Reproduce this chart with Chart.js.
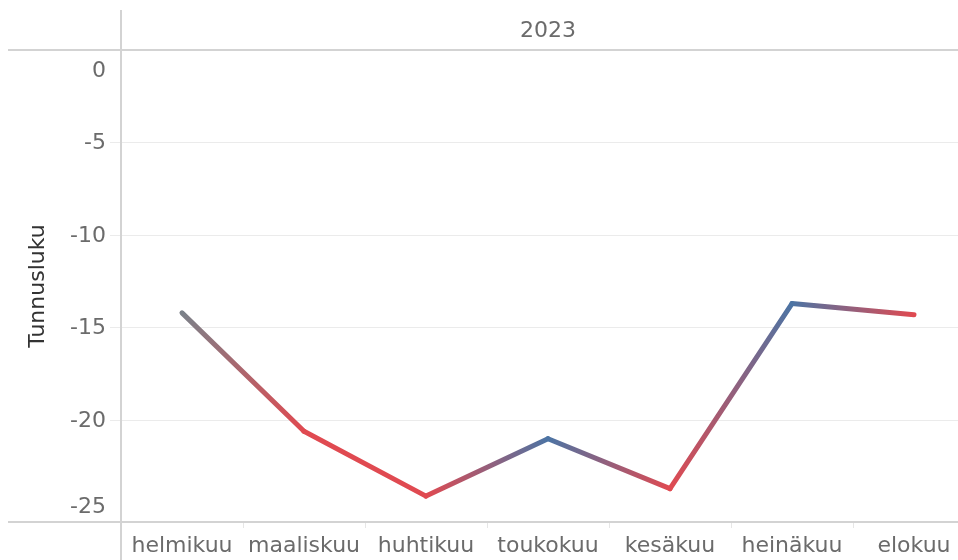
<!DOCTYPE html>
<html>
<head>
<meta charset="utf-8">
<script src="https://cdn.jsdelivr.net/npm/chart.js@4.4.0/dist/chart.umd.min.js"></script>
<style>
html,body{margin:0;padding:0;background:#fff;overflow:hidden;width:958px;height:560px;}
#wrap{width:976px;height:560px;}
</style>
</head>
<body>
<div id="wrap"><canvas id="c" width="976" height="560"></canvas></div>
<script>
const categories = ['helmikuu','maaliskuu','huhtikuu','toukokuu','kesäkuu','heinäkuu','elokuu'];
const values = [-14.2, -20.6, -24.1, -21.0, -23.7, -13.7, -14.3];
const yTicks = [0, -5, -10, -15, -20, -25];
const headerLabel = '2023';
const yTitle = 'Tunnusluku';

const RED = '#e04a51', BLUE = '#4c74a4', GRAY = '#7b8189';
const pointColors = values.map((v, i) => i === 0 ? GRAY : (v < values[i - 1] ? RED : BLUE));
const FONT = 'DejaVu Sans';
const TXT = '#6b6b6b';

const chromePlugin = {
  id: 'chrome',
  afterDraw(chart) {
    const ctx = chart.ctx, a = chart.chartArea, y = chart.scales.y;
    ctx.save();
    ctx.font = '22px "' + FONT + '"';
    ctx.fillStyle = TXT;
    ctx.textAlign = 'right';
    ctx.textBaseline = 'middle';
    yTicks.forEach(t => {
      let py = y.getPixelForValue(t);
      py = Math.max(a.top + 20, Math.min(a.bottom - 16, py));
      ctx.fillText(String(t), 106, py + 1);
    });
    ctx.textAlign = 'center';
    ctx.fillText(headerLabel, (a.left + a.right) / 2, 31);
    ctx.strokeStyle = '#d3d3d3';
    ctx.lineWidth = 2;
    ctx.beginPath();
    ctx.moveTo(8, a.top); ctx.lineTo(chart.width, a.top);
    ctx.moveTo(8, a.bottom); ctx.lineTo(chart.width, a.bottom);
    ctx.moveTo(a.left, 10); ctx.lineTo(a.left, chart.height);
    ctx.stroke();
    ctx.restore();
  }
};

new Chart(document.getElementById('c'), {
  type: 'line',
  data: {
    labels: categories,
    datasets: [{
      data: values,
      borderWidth: 5,
      borderCapStyle: 'round',
      borderJoinStyle: 'round',
      pointRadius: 0,
      tension: 0,
      borderColor: RED,
      segment: {
        borderColor: c => {
          const g = c.chart.ctx.createLinearGradient(c.p0.x, c.p0.y, c.p1.x, c.p1.y);
          g.addColorStop(0, pointColors[c.p0DataIndex]);
          g.addColorStop(1, pointColors[c.p1DataIndex]);
          return g;
        }
      }
    }]
  },
  options: {
    responsive: false,
    animation: false,
    layout: { padding: { top: 50, left: 0, right: 1, bottom: 0 } },
    plugins: { legend: { display: false }, tooltip: { enabled: false } },
    scales: {
      x: {
        offset: true,
        grid: { offset: true, drawOnChartArea: false, drawTicks: true, tickLength: 6, color: '#e6e6e6' },
        border: { display: false },
        ticks: { font: { family: FONT, size: 22 }, color: TXT, padding: 5, maxRotation: 0, autoSkip: false },
        afterFit: s => { s.height = 38; }
      },
      y: {
        min: -25.5,
        max: 0,
        ticks: { stepSize: 5, display: false },
        grid: { color: '#ebebeb', lineWidth: 1, drawTicks: true, tickLength: 11 },
        border: { display: false },
        title: { display: true, text: yTitle, font: { family: FONT, size: 22 }, color: '#333', padding: { top: 25, bottom: 0 } },
        afterFit: s => { s.width = 121; }
      }
    }
  },
  plugins: [chromePlugin]
});
</script>
</body>
</html>
